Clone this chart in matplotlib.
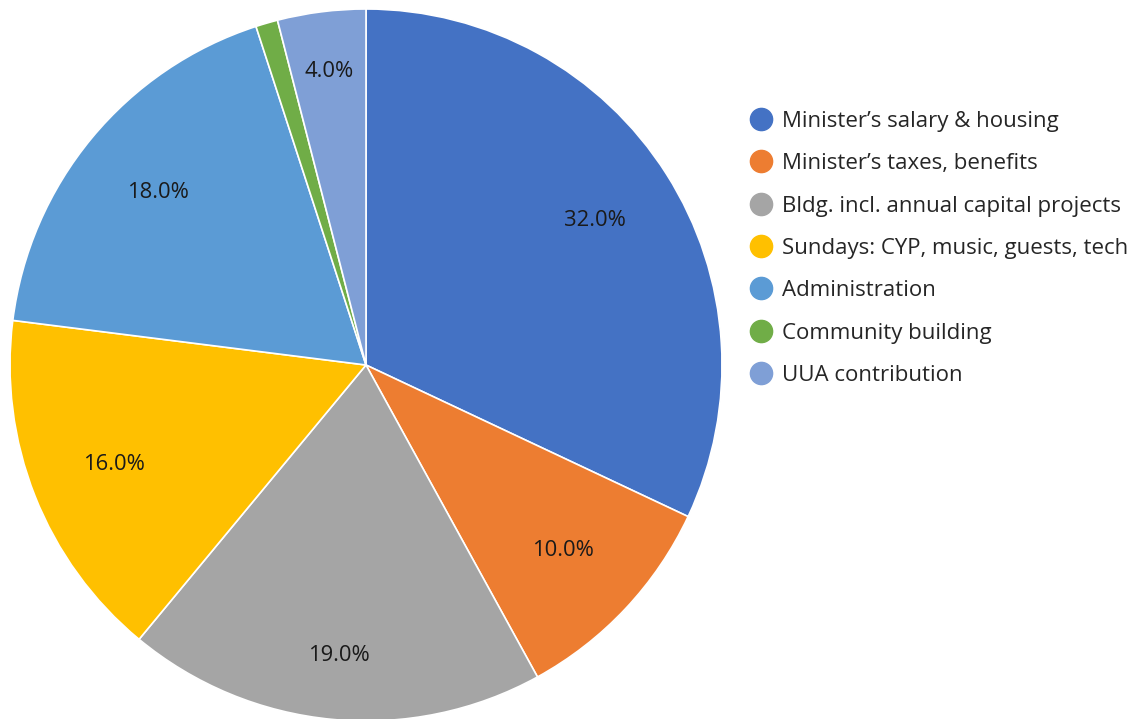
import matplotlib
matplotlib.use("Agg")
import matplotlib.pyplot as plt
from matplotlib.lines import Line2D
import numpy as np

categories = ["Minister\u2019s salary & housing", "Minister\u2019s taxes, benefits",
              "Bldg. incl. annual capital projects", "Sundays: CYP, music, guests, tech",
              "Administration", "Community building", "UUA contribution"]
values = [32, 10, 19, 16, 18, 1, 4]
colors = ["#4472C4", "#ED7D31", "#A5A5A5", "#FFC000", "#5B9BD5", "#70AD47", "#7F9FD6"]
label_dist = [0.76, 0.76, 0.82, 0.76, 0.76, 0.8, 0.83]

plt.rcParams['font.family'] = ['Open Sans', 'DejaVu Sans']

W, H = 1141, 719
fig = plt.figure(figsize=(W/100, H/100), dpi=100)
cx, cy, R = 366, 365, 356
ax = fig.add_axes([(cx-R)/W, (H-cy-R)/H, 2*R/W, 2*R/H])
wedges, _ = ax.pie(values, colors=colors, startangle=90, counterclock=False,
                   wedgeprops=dict(edgecolor="white", linewidth=1.2), radius=1.0)
ax.set_xlim(-1, 1); ax.set_ylim(-1, 1)
ax.set_aspect('equal')
ax.axis('off')

total = sum(values)
for w, v, d in zip(wedges, values, label_dist):
    if v / total < 0.02:
        continue
    ang = np.deg2rad((w.theta1 + w.theta2) / 2)
    ax.text(d*np.cos(ang), d*np.sin(ang), f"{100*v/total:.1f}%", ha='center', va='center',
            fontsize=15.8, color="#1a1a1a")

handles = [Line2D([], [], marker='o', linestyle='none', markersize=16,
                  markerfacecolor=c, markeredgecolor=c) for c in colors]
fig.legend(handles, categories, loc='upper left', bbox_to_anchor=(740/W, 1-102/H),
           frameon=False, fontsize=16.0, labelspacing=0.96, handletextpad=0.4,
           handlelength=1.1, borderaxespad=0, labelcolor="#262626")
fig.savefig("out.png", dpi=100, facecolor="white")
